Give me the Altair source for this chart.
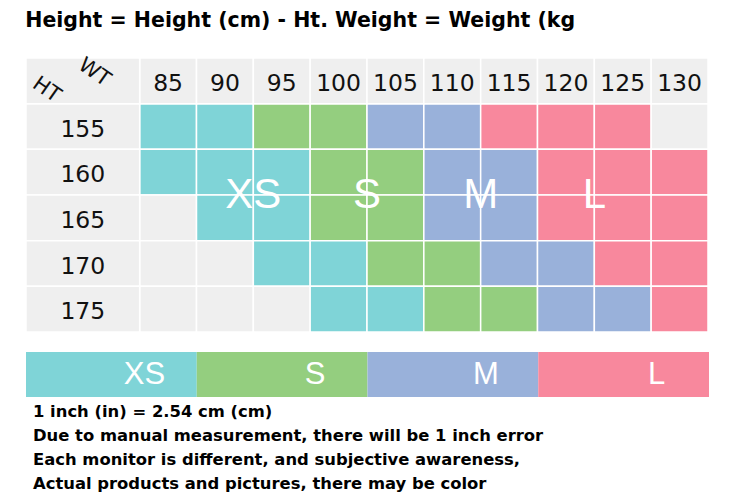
import altair as alt
import pandas as pd

title_text = "Height = Height (cm) - Ht. Weight = Weight (kg"
weights = [85, 90, 95, 100, 105, 110, 115, 120, 125, 130]
heights = [155, 160, 165, 170, 175]
size_rows = [
    ["XS", "XS", "S", "S", "M", "M", "L", "L", "L", "none"],
    ["XS", "XS", "XS", "S", "S", "M", "M", "L", "L", "L"],
    ["none", "XS", "XS", "S", "S", "M", "M", "L", "L", "L"],
    ["none", "none", "XS", "XS", "S", "S", "M", "M", "L", "L"],
    ["none", "none", "none", "XS", "XS", "S", "S", "M", "M", "L"],
]
sizes = ["XS", "S", "M", "L"]
size_colors = ["#7fd4d7", "#94ce7f", "#99b1da", "#f8889d"]
empty_color = "#efefef"
label_weights = [92.5, 102.5, 112.5, 122.5]
label_height = 162.5
corner_labels = ["WT", "HT"]
corner_x = [78.5, 74.3]
corner_y = [149.1, 151.0]
notes = [
    "1 inch (in) = 2.54 cm (cm)",
    "Due to manual measurement, there will be 1 inch error",
    "Each monitor is different, and subjective awareness,",
    "Actual products and pictures, there may be color",
]

half = 2.5
hdr_w = 77.5   # centre of the header column (two cells wide)
hdr_h = 150.0  # centre of the header row

# ---- cells ----
cells = []
for h, row in zip(heights, size_rows):
    for w, s in zip(weights, row):
        cells.append(dict(x0=w - half, x1=w + half, y0=h - half, y1=h + half, size=s))
for w in weights:
    cells.append(dict(x0=w - half, x1=w + half, y0=hdr_h - half, y1=hdr_h + half, size="none"))
for h in heights:
    cells.append(dict(x0=hdr_w - 2 * half, x1=hdr_w + 2 * half, y0=h - half, y1=h + half, size="none"))
cells.append(dict(x0=hdr_w - 2 * half, x1=hdr_w + 2 * half, y0=hdr_h - half, y1=hdr_h + half, size="none"))
cells_df = pd.DataFrame(cells)

headers = [dict(tx=w, ty=hdr_h, label=str(w)) for w in weights] + \
          [dict(tx=hdr_w, ty=h, label=str(h)) for h in heights]
headers_df = pd.DataFrame(headers)

big_df = pd.DataFrame(dict(tx=label_weights, ty=[label_height] * 4, label=sizes))
corner_df = pd.DataFrame(dict(tx=corner_x, ty=corner_y, label=corner_labels))

xs = alt.Scale(domain=[72.5, 132.5], nice=False, zero=False)
ys = alt.Scale(domain=[147.5, 177.5], nice=False, zero=False, reverse=True)
color_scale = alt.Scale(domain=sizes + ["none"], range=size_colors + [empty_color])

rects = alt.Chart(cells_df).mark_rect(stroke="white", strokeWidth=1.5).encode(
    x=alt.X("x0:Q", scale=xs, axis=None),
    x2="x1:Q",
    y=alt.Y("y0:Q", scale=ys, axis=None),
    y2="y1:Q",
    color=alt.Color("size:N", scale=color_scale, legend=None),
)

hdr_text = alt.Chart(headers_df).mark_text(
    font="DejaVu Sans", fontSize=23.5, color="#111111", dy=3
).encode(
    x=alt.X("tx:Q", scale=xs, axis=None),
    y=alt.Y("ty:Q", scale=ys, axis=None),
    text="label:N",
)

big_text = alt.Chart(big_df).mark_text(
    font="Liberation Sans", fontSize=42, color="white"
).encode(
    x=alt.X("tx:Q", scale=xs, axis=None),
    y=alt.Y("ty:Q", scale=ys, axis=None),
    text="label:N",
)

corner_text = alt.Chart(corner_df).mark_text(
    font="DejaVu Sans", fontSize=21, color="#111111", angle=35
).encode(
    x=alt.X("tx:Q", scale=xs, axis=None),
    y=alt.Y("ty:Q", scale=ys, axis=None),
    text="label:N",
)

grid = alt.layer(rects, hdr_text, big_text, corner_text).properties(width=682, height=274)

# ---- legend bar ----
bar_df = pd.DataFrame(dict(size=sizes))
bx = alt.Scale(domain=sizes, paddingInner=0, paddingOuter=0)
bar_rect = alt.Chart(bar_df).mark_rect().encode(
    x=alt.X("size:N", scale=bx, axis=None, sort=sizes),
    color=alt.Color("size:N", scale=alt.Scale(domain=sizes, range=size_colors), legend=None),
)
bar_text = alt.Chart(bar_df).mark_text(
    font="Liberation Sans", fontSize=31, color="white", dx=33
).encode(
    x=alt.X("size:N", scale=bx, axis=None, sort=sizes),
    text="size:N",
)
bar = alt.layer(bar_rect, bar_text).properties(
    width=683, height=45,
    title=alt.TitleParams(
        text=notes, orient="bottom", anchor="start", fontSize=16.4,
        font="DejaVu Sans", fontWeight="bold", color="black",
        lineHeight=24, offset=7, dx=7,
    ),
)

chart = alt.vconcat(grid, bar, spacing=19).properties(
    title=alt.TitleParams(
        text=title_text, anchor="start", fontSize=20.5, font="DejaVu Sans",
        fontWeight="bold", color="black", offset=22,
    ),
    padding={"left": 17, "top": 3, "right": 5, "bottom": 5},
).configure_view(stroke=None)

chart.save("out.html", embed_options={"renderer": "svg", "actions": False})
